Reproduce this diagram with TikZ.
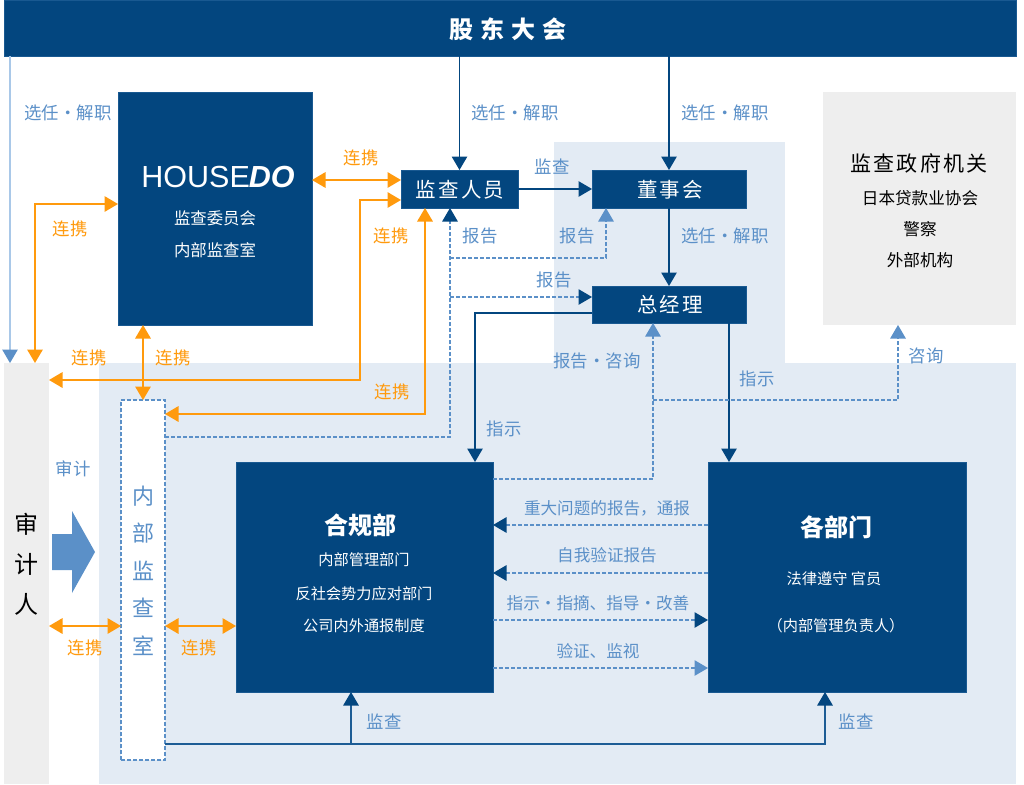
\documentclass[tikz,border=0pt]{standalone}
\usepackage{fontspec}
\setmainfont{Noto Sans CJK SC}
\newfontfamily\cjkwide[LetterSpace=10]{Noto Sans CJK SC}
\newfontfamily\cjkwider[LetterSpace=28]{Noto Sans CJK SC}
\newfontfamily\logofont{Liberation Sans}
\usetikzlibrary{arrows.meta,calc}
\definecolor{navy}{HTML}{03467F}
\definecolor{panelblue}{HTML}{E3EBF4}
\definecolor{panelgray}{HTML}{EEEEEE}
\definecolor{labelblue}{HTML}{5B90C8}
\definecolor{paleline}{HTML}{A9C8E8}
\definecolor{orangeline}{HTML}{FF9A0D}
\tikzset{
  panel/.style={inner sep=0pt,outer sep=0pt,draw=none},
  navybox/.style={fill=navy,draw=navy!75!labelblue,line width=.6pt,inner sep=0pt,outer sep=0pt},
  dashbox/.style={fill=white,draw=labelblue,line width=1.1pt,dash pattern=on 4pt off 2pt,inner sep=0pt,outer sep=0pt},
  lbl/.style={text=labelblue,font=\fontsize{17.4}{17.4}\selectfont,inner sep=0pt},
  llbl/.style={text=labelblue,font=\fontsize{16.6}{16.6}\selectfont,inner sep=0pt},
  olbl/.style={text=orangeline,font=\fontsize{17.4}{17.4}\selectfont,inner sep=0pt},
  wsmall/.style={text=white,font=\fontsize{15.2}{15.2}\selectfont,inner sep=0pt},
  wlarge/.style={text=white,font=\fontsize{16.4}{16.4}\selectfont,inner sep=0pt},
  wtitle/.style={text=white,font=\cjkwide\fontsize{20.5}{20.5}\selectfont,inner sep=0pt},
  whead/.style={text=white,font=\bfseries\fontsize{24}{24}\selectfont,inner sep=0pt},
  bsmall/.style={text=black,font=\fontsize{16.6}{16.6}\selectfont,inner sep=0pt},
  vert/.style={font=\fontsize{22}{22}\selectfont,inner sep=0pt},
  tipn/.style={-{Triangle[width=15.5pt,length=13.5pt,color=navy]}},
  tipl/.style={-{Triangle[width=15.5pt,length=13.5pt,color=labelblue]}},
  navyline/.style={draw=navy,line width=1.2pt,tipn},
  botline/.style={draw=navy!70!labelblue,line width=1.2pt,tipn},
  dashdark/.style={draw=labelblue,line width=1.1pt,dash pattern=on 4pt off 2pt,tipn},
  dashlight/.style={draw=labelblue,line width=1.1pt,dash pattern=on 4pt off 2pt,tipl},
  orangearrow/.style={draw=orangeline,line width=1.5pt,{Triangle[width=15.5pt,length=13.5pt,color=orangeline]}-{Triangle[width=15.5pt,length=13.5pt,color=orangeline]}},
}
\begin{document}
\begin{tikzpicture}[x=1pt,y=-1pt]
\useasboundingbox (0,0) rectangle (1024,784);
\fill[white] (0,0) rectangle (1024,784);
% background panels
\fill[panelblue] (554,142) rectangle (785,363);
\fill[panelblue] (99,363) rectangle (1016,784);
\node[panel,fill=panelgray,minimum width=45pt,minimum height=421pt] (auditor) at (26.5,573.5) {};
\node[panel,fill=panelgray,minimum width=193pt,minimum height=233pt] (gov) at (919.5,208.5) {};
% boxes
\node[navybox,minimum width=1012pt,minimum height=56pt] (bar) at (510,28) {};
\node[navybox,minimum width=194pt,minimum height=233pt] (hd) at (215,208.5) {};
\node[navybox,minimum width=117pt,minimum height=38pt] (sup) at (459.5,189) {};
\node[navybox,minimum width=154pt,minimum height=38pt] (board) at (669,189) {};
\node[navybox,minimum width=154pt,minimum height=37pt] (gm) at (669,304.5) {};
\node[dashbox,minimum width=44pt,minimum height=360pt] (audit) at (143,580) {};
\node[navybox,minimum width=257pt,minimum height=230pt] (comp) at (364.5,577) {};
\node[navybox,minimum width=258pt,minimum height=230pt] (dept) at (837,577) {};
% junctions and free ends
\coordinate (leftend) at (10,363);
\coordinate (leftstart) at (10,56);
\coordinate (o1a) at (35,204);
\coordinate (o1b) at (35,363);
\coordinate (o2a) at (360,200);
\coordinate (o2b) at (360,380);
\coordinate (o3a) at (425,414);
\coordinate (d1a) at (450,437);
\coordinate (d1b) at (450,258);
\coordinate (d1c) at (606,258);
\coordinate (d1d) at (450,297);
\coordinate (d2a) at (653,479);
\coordinate (d2b) at (653,400);
\coordinate (d2c) at (898,400);
\coordinate (govtip) at (898,325);
\coordinate (botR) at (825,744);
\coordinate (botM) at (351,744);
\coordinate (gmL) at (475,313);
% navy connectors
\draw[draw=paleline,line width=1.2pt,tipl] (leftstart) -- (leftend);
\draw[navyline] (bar.south -| sup.north) -- (sup.north);
\draw[navyline] (bar.south -| board.north) -- (board.north);
\draw[navyline] (sup.east) -- (board.west);
\draw[navyline] (board.south) -- (gm.north);
\draw[navyline] (gm.west |- gmL) -- (gmL) -- (gmL |- comp.north);
\draw[navyline] (729,323) -- (729,462);
% dashed connectors
\draw[dashdark] (audit.east |- d1a) -- (d1a) -- (d1a |- sup.south);
\draw[dashlight] (d1b) -- (d1c) -- (d1c |- board.south);
\draw[dashdark] (d1d) -- (d1d -| gm.west);
\draw[dashlight] (comp.east |- d2a) -- (d2a) -- (d2a |- gm.south);
\draw[dashlight] (d2b) -- (d2c) -- (govtip);
\draw[dashdark] (dept.west |- 0,525) -- (comp.east |- 0,525);
\draw[dashdark] (dept.west |- 0,573) -- (comp.east |- 0,573);
\draw[dashdark] (comp.east |- 0,620) -- (dept.west |- 0,620);
\draw[dashlight] (comp.east |- 0,668) -- (dept.west |- 0,668);
% monitoring line
\draw[botline] (audit.east |- botR) -- (botR) -- (botR |- dept.south);
\draw[botline] (botM) -- (botM |- comp.south);
% orange connectors
\draw[orangearrow] (hd.east |- 0,180) -- (sup.west |- 0,180);
\draw[orangearrow] (hd.west |- o1a) -- (o1a) -- (o1b);
\draw[orangearrow] (sup.west |- o2a) -- (o2a) -- (o2b) -- (auditor.east |- o2b);
\draw[orangearrow] (sup.south -| o3a) -- (o3a) -- (audit.east |- o3a);
\draw[orangearrow] (hd.south -| audit.north) -- (audit.north);
\draw[orangearrow] (auditor.east |- 0,626) -- (audit.west |- 0,626);
\draw[orangearrow] (audit.east |- 0,626) -- (comp.west |- 0,626);
% big audit arrow
\fill[labelblue] (52,534) -- (72,534) -- (72,511) -- (95,552) -- (72,593) -- (72,570) -- (52,570) -- cycle;
% box titles and text
\node[text=white,font=\cjkwider\bfseries\fontsize{24}{24}\selectfont,inner sep=0pt] (tbar) at (508,29) {股东大会};
\node[inner sep=0pt,text=white,font=\logofont\fontsize{30.5}{30.5}\selectfont] (tlogo) at (218,177) {HOUSE\kern-1pt{\bfseries\itshape DO}};
\node[wlarge] (th1) at (215,218) {监查委员会};
\node[wlarge] (th2) at (215,250) {内部监查室};
\node[wtitle] (tsup) at (460,190) {监查人员};
\node[wtitle] (tboard) at (670,190) {董事会};
\node[wtitle] (tgm) at (670,305) {总经理};
\node[text=black,font=\cjkwide\fontsize{21}{21}\selectfont,inner sep=0pt] (tg0) at (919,163) {监查政府机关};
\node[bsmall] (tg1) at (920,198) {日本贷款业协会};
\node[bsmall] (tg2) at (920,229) {警察};
\node[bsmall] (tg3) at (920,260) {外部机构};
\node[whead] (tc0) at (360,525) {合规部};
\node[wsmall] (tc1) at (364,560) {内部管理部门};
\node[wsmall] (tc2) at (364,594) {反社会势力应对部门};
\node[wsmall] (tc3) at (364,626) {公司内外通报制度};
\node[whead] (td0) at (836,527) {各部门};
\node[wsmall] (td1) at (834,579) {法律遵守 官员};
\node[wsmall] (td2) at (836,626) {（内部管理负责人）};
% auditor vertical text
\node[vert,text=black,font=\fontsize{24}{24}\selectfont] (va1) at (26,524) {审};
\node[vert,text=black,font=\fontsize{24}{24}\selectfont] (va2) at (26,564) {计};
\node[vert,text=black,font=\fontsize{24}{24}\selectfont] (va3) at (26,604) {人};
\node[vert,text=labelblue] (vb1) at (143,496) {内};
\node[vert,text=labelblue] (vb2) at (143,533) {部};
\node[vert,text=labelblue] (vb3) at (143,571) {监};
\node[vert,text=labelblue] (vb4) at (143,608) {查};
\node[vert,text=labelblue] (vb5) at (143,646) {室};
% blue labels
\node[lbl] (l1) at (68,113) {选任・解职};
\node[lbl] (l2) at (515,113) {选任・解职};
\node[lbl] (l3) at (725,113) {选任・解职};
\node[lbl] (l4) at (725,236) {选任・解职};
\node[lbl] (l5) at (552,167) {监查};
\node[lbl] (l6) at (480,236) {报告};
\node[lbl] (l7) at (577,236) {报告};
\node[lbl] (l8) at (554,280) {报告};
\node[lbl] (l9) at (597,361) {报告・咨询};
\node[lbl] (l10) at (757,379) {指示};
\node[lbl] (l11) at (504,429) {指示};
\node[lbl] (l12) at (926,356) {咨询};
\node[lbl] (l13) at (73,469) {审计};
\node[lbl] (l14) at (384,722) {监查};
\node[lbl] (l15) at (856,722) {监查};
\node[llbl] (l16) at (607,508) {重大问题的报告，通报};
\node[llbl] (l17) at (607,555) {自我验证报告};
\node[llbl] (l18) at (598,603) {指示・指摘、指导・改善};
\node[llbl] (l19) at (598,651) {验证、监视};
% orange labels
\node[olbl] (o1) at (361,158) {连携};
\node[olbl] (o2) at (70,229) {连携};
\node[olbl] (o3) at (391,236) {连携};
\node[olbl] (o4) at (89,358) {连携};
\node[olbl] (o5) at (173,358) {连携};
\node[olbl] (o6) at (392,392) {连携};
\node[olbl] (o7) at (85,648) {连携};
\node[olbl] (o8) at (199,648) {连携};
\end{tikzpicture}
\end{document}
